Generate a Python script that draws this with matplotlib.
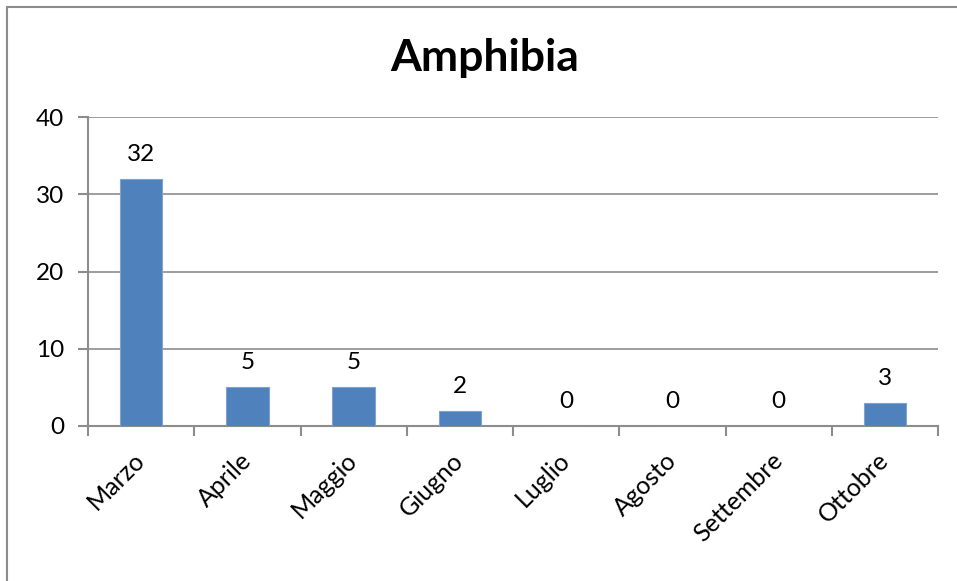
import matplotlib
matplotlib.use("Agg")
import matplotlib.pyplot as plt
from matplotlib.patches import Rectangle

categories = ["Marzo", "Aprile", "Maggio", "Giugno", "Luglio", "Agosto", "Settembre", "Ottobre"]
values = [32, 5, 5, 2, 0, 0, 0, 3]
yticks = [0, 10, 20, 30, 40]
title = "Amphibia"

plt.rcParams['font.family'] = ['Lato', 'DejaVu Sans']

W, H = 957, 581
fig = plt.figure(figsize=(W/100, H/100), dpi=100)
fig.patch.set_facecolor("white")

# outer chart border (left & top visible)
fig.patches.append(Rectangle((7/W, -0.1), 1.2, (H-7)/H + 0.1, transform=fig.transFigure,
                             fill=False, edgecolor="#8c8c8c", linewidth=1.5, zorder=0))

left, right, top, bottom = 88, 938, 117, 426
ax = fig.add_axes([left/W, 1-bottom/H, (right-left)/W, (bottom-top)/H])

fs = 17.5
x = list(range(len(categories)))
ax.bar(x, values, width=0.4, color="#4F81BD", edgecolor="#7FA3D1", linewidth=0.8, zorder=3)
ax.set_xlim(-0.5, len(categories)-0.5)
ax.set_ylim(0, 40)
ax.set_yticks(yticks)
ax.set_yticklabels([str(t) for t in yticks], fontsize=fs)
ax.yaxis.grid(True, color="#8c8c8c", linewidth=1.2, zorder=0)
ax.set_axisbelow(True)

for s in ["top", "right"]:
    ax.spines[s].set_visible(False)
for s in ["left", "bottom"]:
    ax.spines[s].set_color("#8c8c8c")
    ax.spines[s].set_linewidth(1.5)

ax.tick_params(axis='y', length=7, width=1.5, color="#8c8c8c", pad=10)
ax.set_xticks([i - 0.5 for i in range(len(categories)+1)])
ax.set_xticklabels([])
ax.tick_params(axis='x', length=7, width=1.5, color="#8c8c8c")
ax.set_xticks(x, minor=True)
ax.set_xticklabels(categories, minor=True, rotation=45, ha='right', va='center',
                   rotation_mode='anchor', fontsize=18)
ax.tick_params(axis='x', which='minor', length=0, pad=22)

for xi, v in zip(x, values):
    ax.annotate(str(v), (xi, v), xytext=(0, 10), textcoords="offset points",
                ha='center', va='bottom', fontsize=fs)

fig.text(485/W, 1-58/H, title, ha='center', va='center', fontsize=32, fontweight='bold')

fig.savefig("out.png", dpi=100)
